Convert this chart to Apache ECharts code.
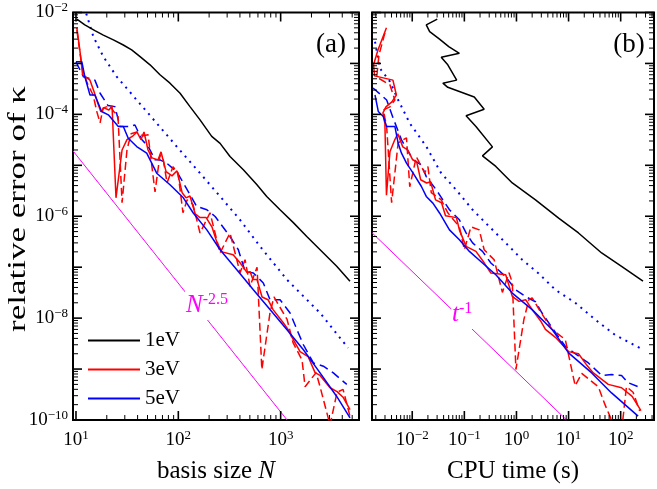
<!DOCTYPE html>
<html><head><meta charset="utf-8">
<script src="https://cdn.jsdelivr.net/npm/echarts@6/dist/echarts.min.js"></script>
<style>html,body{margin:0;padding:0;background:#fff}#c{width:657px;height:489px}</style>
</head><body><div id="c"></div>
<script>
// ---------- data ----------
const legendNames = ['1eV', '3eV', '5eV'];
const xDecadesLeft = [1, 2, 3];          // exponents of labelled x ticks, panel (a)
const xDecadesRight = [-2, -1, 0, 1, 2]; // exponents of labelled x ticks, panel (b)
const yDecades = [-10, -8, -6, -4, -2];  // exponents of labelled y ticks
const panelLabels = ['(a)', '(b)'];

// panel (a): error vs basis size N
const black1eV_N = [[10.2,7.4e-3],[12.2,5.7e-3],[15.3,4.4e-3],[18.5,3.6e-3],[23.2,2.9e-3],[29.0,2.3e-3],[35.0,1.84e-3],[42.3,1.36e-3],[52.9,9.4e-4],[66.2,6.0e-4],[82.9,4.1e-4],[104,2.6e-4],[130,1.42e-4],[163,7.8e-5],[212,3.7e-5],[256,2.7e-5],[320,1.49e-5],[432,8.2e-6],[584,4.2e-6],[731,2.45e-6],[986,1.34e-6],[1330,7.5e-7],[1800,4.0e-7],[2430,2.2e-7],[3530,1.04e-7],[4760,5.3e-8]];
const red3eV_N = [[10.2,5.0e-3],[10.9,1.84e-3],[11.6,6.0e-4],[12.5,5.4e-4],[13.7,4.7e-4],[15.0,2.8e-4],[16.4,1.61e-4],[17.5,1.12e-4],[18.8,1.34e-4],[21.0,1.22e-4],[22.5,1.47e-4],[24.6,2.3e-6],[28.2,2.0e-5],[31.5,3.2e-5],[36.1,3.8e-5],[39.5,4.5e-5],[43.2,3.2e-5],[46.2,4.5e-5],[50.6,2.0e-5],[55.3,1.4e-5],[63.4,1.28e-5],[67.8,1.84e-5],[75.9,7.5e-6],[86.8,6.2e-6],[97.1,7.8e-6],[109,2.9e-6],[119,2.3e-6],[130,2.5e-6],[146,1.12e-6],[163,9.4e-7],[187,9.4e-7],[213,6.2e-7],[239,3.0e-7],[267,2.0e-7],[343,1.76e-7],[401,1.22e-7],[470,7.8e-8],[502,8.2e-8],[537,5.7e-8],[588,5.7e-8],[658,2.6e-8],[753,2.3e-8],[843,1.47e-8],[1056,8.2e-9],[1181,6.0e-9],[1292,4.2e-9],[1548,2.2e-9],[1854,1.76e-9],[2169,8.5e-10],[2427,7.5e-10],[3040,4.3e-10],[3558,3.6e-10],[4073,2.8e-10],[4764,1.6e-10]];
const red3eVdash_N = [[10.2,4.5e-3],[10.9,1.7e-3],[11.7,6.8e-4],[13.1,3.8e-4],[14.7,2.4e-4],[16.0,1.12e-4],[17.2,6.8e-5],[18.4,1.34e-4],[21.5,1.47e-4],[23.5,1.12e-4],[25.7,9.8e-5],[28.2,1.84e-6],[31.5,2.0e-5],[34.5,4.15e-5],[39.5,4.5e-5],[45.2,3.8e-5],[50.6,4.0e-5],[59.2,3.0e-6],[66.2,1.6e-5],[70.8,1.4e-5],[77.6,4.5e-6],[88.7,9.4e-6],[99.3,7.1e-6],[111,1.17e-6],[122,2.1e-6],[139,1.7e-6],[163,4.7e-7],[204,1.17e-6],[256,1.9e-7],[320,4.7e-7],[401,7.8e-8],[449,1.4e-7],[502,4.2e-8],[588,1.0e-7],[655,9.8e-10],[787,1.28e-8],[861,2.6e-8],[1156,9.4e-9],[1322,3.3e-9],[1619,1.5e-9],[1733,4.5e-10],[2219,8.5e-10],[2427,4.5e-10],[3040,8e-11],[3558,3.5e-10],[4073,4.0e-10],[4764,1.17e-10]];
const blue5eV_N = [[10,1.08e-3],[11.4,1.08e-3],[12.2,5.5e-4],[13.7,2.4e-4],[15.3,2.4e-4],[17.8,1.14e-4],[20.7,9.8e-5],[25.9,5.8e-5],[29.0,5.8e-5],[32.4,3.4e-5],[39.2,2.34e-5],[49.1,1.73e-5],[61.5,7.0e-6],[82.9,4.15e-6],[112,2.3e-6],[140,1.16e-6],[190,5.4e-7],[256,2.2e-7],[373,8.9e-8],[541,3.6e-8],[787,1.47e-8],[1148,6.0e-9],[1668,2.4e-9],[2427,8.4e-10],[3532,2.9e-10],[4764,1.1e-10]];
const blue5eVdash_N = [[10,1.08e-3],[11.8,5.5e-4],[15.3,4.7e-4],[17.2,2.6e-4],[20.5,1.5e-4],[24.0,1.42e-4],[26.9,5.8e-5],[33.7,5.8e-5],[37.7,6.2e-5],[43.9,3.2e-5],[50.9,2.34e-5],[59.2,1.28e-5],[66.2,1.28e-5],[77.1,1.1e-5],[96.4,7.5e-6],[112,4.5e-6],[151,1.56e-6],[190,1.34e-6],[229,9.9e-7],[320,4.0e-7],[386,2.2e-7],[449,8.3e-8],[541,7.7e-8],[677,4.9e-8],[787,2.3e-8],[986,2.3e-8],[1236,1.26e-8],[1490,5.1e-9],[1668,3.0e-9],[2089,1.32e-9],[2614,1.14e-9],[3272,8.4e-10],[4426,5.0e-10]];
const blue5eVdot_N = [[12.6,9.5e-3],[14.8,3.35e-3],[18.5,1.36e-3],[25.0,5.5e-4],[39.2,1.92e-4],[61.5,6.7e-5],[96.4,2.34e-5],[163,7.0e-6],[256,2.45e-6],[401,8.5e-7],[629,2.56e-7],[1150,5.7e-8],[2430,1.26e-8],[4560,2.6e-9]];
const guideN = [[9.35,1.92e-5],[1156,1e-10]];

// panel (b): error vs CPU time t
const black1eV_t = [[0.0302,7.4e-3],[0.0186,5.7e-3],[0.0216,4.2e-3],[0.0334,3.0e-3],[0.0502,2.14e-3],[0.0803,1.58e-3],[0.036,1.32e-3],[0.0481,9.4e-4],[0.0713,4.7e-4],[0.0387,4.1e-4],[0.0481,3.4e-4],[0.155,2.2e-4],[0.24,1.26e-4],[0.108,9.4e-5],[0.167,5.8e-5],[0.346,2.3e-5],[0.223,1.53e-5],[0.402,9.5e-6],[0.832,4.5e-6],[2.32,2.1e-6],[6.45,9.2e-7],[15.5,4.7e-7],[43.1,1.9e-7],[104,1.04e-7],[268,5.3e-8]];
const red3eV_t = [[3.2e-3,5.0e-3],[2.2e-3,1.84e-3],[1.81e-3,9.4e-4],[1.89e-3,5.7e-4],[4.26e-3,4.7e-4],[4.96e-3,2.4e-4],[4.07e-3,1.76e-4],[3.13e-3,1.4e-4],[2.74e-3,1.07e-4],[2.99e-3,6.5e-5],[3.2e-3,2.6e-6],[3.73e-3,1.84e-5],[4.64e-3,3.2e-5],[5.29e-3,4.15e-5],[6.59e-3,2.3e-5],[8.21e-3,2.0e-5],[0.0102,1.28e-5],[0.0122,1.17e-5],[0.0145,5.2e-6],[0.0189,4.5e-6],[0.0225,4.75e-6],[0.028,2.1e-6],[0.0365,1.84e-6],[0.0435,1.02e-6],[0.0705,9.4e-7],[0.0803,5.4e-7],[0.108,2.56e-7],[0.167,2.04e-7],[0.24,1.22e-7],[0.323,7.7e-8],[0.622,7.1e-8],[0.832,2.67e-8],[1.12,2.13e-8],[1.5,2.3e-8],[2.0,1.47e-8],[2.89,8.9e-9],[3.6,6.0e-9],[5.9,4.0e-9],[10,2.2e-9],[15.5,2.0e-9],[22,1.22e-9],[29.9,8.4e-10],[57.8,5.0e-10],[104,4.3e-10],[166,2.9e-10],[245,1.53e-10]];
const red3eVdash_t = [[2.99e-3,4.0e-3],[2.3e-3,1.47e-3],[2.08e-3,5.4e-4],[3.73e-3,3.8e-4],[4.64e-3,1.92e-4],[3.73e-3,1.4e-4],[2.78e-3,1.22e-4],[3.23e-3,5.7e-5],[4.02e-3,1.84e-6],[5.37e-3,2.76e-5],[7.76e-3,3.46e-5],[8.96e-3,3.8e-6],[0.012,1.47e-5],[0.0173,7.1e-6],[0.02,9.4e-6],[0.0232,2.9e-6],[0.036,2.1e-6],[0.0481,1.17e-6],[0.0803,6.2e-7],[0.1,2.2e-7],[0.134,6.2e-7],[0.193,5.4e-7],[0.24,2.2e-7],[0.373,1.4e-7],[0.537,3.2e-8],[0.719,7.8e-8],[0.832,5.0e-8],[0.977,9.8e-10],[1.39,9.4e-9],[1.73,2.3e-8],[2.0,2.5e-8],[2.89,1.34e-8],[4.81,6.0e-9],[8.65,3.8e-9],[10,1.9e-9],[13.4,4.7e-10],[17.9,8.2e-10],[37.3,4.5e-10],[50,2.0e-10],[66.8,1.0e-10],[104,6e-11],[129,4.5e-10],[173,3.5e-10],[232,1.5e-10]];
const blue5eV_t = [[1.93e-3,2.4e-4],[2.23e-3,1.14e-4],[2.78e-3,9.1e-5],[3.23e-3,5.8e-5],[4.64e-3,5.8e-5],[5.37e-3,2.72e-5],[6.22e-3,1.73e-5],[7.76e-3,1.1e-5],[0.0104,7.0e-6],[0.015,3.84e-6],[0.0186,2.45e-6],[0.0249,1.81e-6],[0.0334,1.16e-6],[0.0518,5.4e-7],[0.0803,3.46e-7],[0.125,2.04e-7],[0.223,1.21e-7],[0.402,7.1e-8],[0.832,3.1e-8],[2.0,1.47e-8],[4.81,6.0e-9],[10,2.08e-9],[27.8,8.4e-10],[66.8,3.4e-10],[216,1.19e-10]];
const blue5eVdash_t = [[1.77e-3,3.3e-4],[3.23e-3,1.92e-4],[4.31e-3,8.4e-5],[6.22e-3,3.16e-5],[0.0104,1.28e-5],[0.015,1.02e-5],[0.0186,6.0e-6],[0.0289,3.3e-6],[0.0387,2.1e-6],[0.0518,1.34e-6],[0.0803,8.5e-7],[0.108,4.7e-7],[0.144,3.0e-7],[0.223,2.04e-7],[0.323,1.21e-7],[0.622,6.5e-8],[0.966,3.6e-8],[1.5,2.64e-8],[2.32,2.1e-8],[3.1,1.26e-8],[4.81,6.5e-9],[8.65,2.8e-9],[13.4,2.0e-9],[24.0,1.32e-9],[43.1,7.5e-10],[66.8,7.8e-10],[104,7.5e-10],[139,5.4e-10],[216,4.5e-10]];
const blue5eVdot_t = [[1.93e-3,2.67e-3],[2.4e-3,8.0e-4],[3.73e-3,4.4e-4],[5.37e-3,1.92e-4],[8.96e-3,6.7e-5],[0.0186,2.34e-5],[0.036,7.0e-6],[0.0695,3.3e-6],[0.144,1.34e-6],[0.299,6.3e-7],[0.622,3.0e-7],[1.29,1.4e-7],[2.68,7.5e-8],[5.58,3.6e-8],[13.4,2.0e-8],[32.3,9.4e-9],[77.6,4.7e-9],[232,2.6e-9]];
const guideT = [[1.69e-3,4.74e-7],[9.16,1e-10]];

// axis ranges
const xRangeLeft = [9.35, 5830];
const xRangeRight = [1.69e-3, 436];
const yRange = [1e-10, 1e-2];

// ---------- rendering ----------
const FONT = 'Liberation Serif';
const BLACK = '#000000', RED = '#ff0000', BLUE = '#0000ff', MAG = '#ff00ff';

function logTicks(lo, hi) {
  const out = [];
  const e0 = Math.floor(Math.log10(lo)), e1 = Math.ceil(Math.log10(hi));
  for (let e = e0; e <= e1; e++) {
    for (let m = 1; m <= 9; m++) {
      const v = m * Math.pow(10, e);
      if (v >= lo * 0.9999 && v <= hi * 1.0001) out.push([v, m === 1 ? 1 : 0]);
    }
  }
  return out;
}

function powLabel(allowed) {
  return function (v) {
    const l = Math.log10(v), e = Math.round(l);
    if (Math.abs(l - e) > 1e-6 || allowed.indexOf(e) < 0) return '';
    return '{b|10}{s|' + String(e).replace('-', '\u2212') + '}';
  };
}
const labelRich = {
  b: { fontFamily: FONT, fontSize: 19, lineHeight: 22, color: '#000' },
  s: { fontFamily: FONT, fontSize: 13, lineHeight: 10, verticalAlign: 'top', color: '#000' }
};

function tickSeries(gi, dim, ticks) {
  const data = ticks.map(t => dim === 'x' ? [t[0], 1e-6, t[1]] : [1, t[0], t[1]]);
  return {
    type: 'custom', xAxisIndex: gi, yAxisIndex: gi, silent: true, z: 5,
    encode: { x: 0, y: 1 }, data: data,
    renderItem: function (params, api) {
      const cs = params.coordSys;
      const major = api.value(2) === 1;
      const len = major ? 9 : 5;
      const p = api.coord([api.value(0), api.value(1)]);
      const st = { stroke: '#000', lineWidth: major ? 1.6 : 1 };
      if (dim === 'x') {
        const x = p[0], yb = cs.y + cs.height, yt = cs.y;
        return { type: 'group', children: [
          { type: 'line', shape: { x1: x, y1: yb, x2: x, y2: yb - len }, style: st },
          { type: 'line', shape: { x1: x, y1: yt, x2: x, y2: yt + len }, style: st } ] };
      } else {
        const y = p[1], xl = cs.x, xr = cs.x + cs.width;
        return { type: 'group', children: [
          { type: 'line', shape: { x1: xl, y1: y, x2: xl + len, y2: y }, style: st },
          { type: 'line', shape: { x1: xr, y1: y, x2: xr - len, y2: y }, style: st } ] };
      }
    }
  };
}

function lineSeries(name, gi, data, color, type, width) {
  return {
    name: name, type: 'line', xAxisIndex: gi, yAxisIndex: gi, data: data,
    symbol: 'none', smooth: false, clip: true, animation: false, z: 3,
    lineStyle: { color: color, width: width || 1.5, type: type || 'solid' },
    itemStyle: { color: color }
  };
}

const chart = echarts.init(document.getElementById('c'), null, { renderer: 'canvas' });

const grids = [
  { left: 73, top: 12.5, width: 286, height: 408 },
  { left: 372, top: 12.5, width: 283, height: 408 }
];

const option = {
  animation: false,
  backgroundColor: '#fff',
  grid: grids.map(g => Object.assign({ show: true, borderColor: '#000', borderWidth: 2, backgroundColor: 'transparent' }, g)),
  legend: {
    data: legendNames, orient: 'vertical', left: 88, top: 330, padding: 0,
    icon: 'rect', itemWidth: 52, itemHeight: 2, itemGap: 8,
    textStyle: { fontFamily: FONT, fontSize: 21, lineHeight: 20, color: '#000' },
    selectedMode: false
  },
  xAxis: [
    { type: 'log', gridIndex: 0, min: xRangeLeft[0], max: xRangeLeft[1],
      axisLine: { show: false }, axisTick: { show: false }, splitLine: { show: false },
      axisLabel: { formatter: powLabel(xDecadesLeft), margin: 9, rich: labelRich, showMinLabel: true, showMaxLabel: true, hideOverlap: false },
      name: '{a|basis size }{i|N}', nameLocation: 'middle', nameGap: 39,
      nameTextStyle: { rich: { a: { fontFamily: FONT, fontSize: 25, color: '#000' }, i: { fontFamily: FONT, fontSize: 25, fontStyle: 'italic', color: '#000' } } } },
    { type: 'log', gridIndex: 1, min: xRangeRight[0], max: xRangeRight[1],
      axisLine: { show: false }, axisTick: { show: false }, splitLine: { show: false },
      axisLabel: { formatter: powLabel(xDecadesRight), margin: 9, rich: labelRich, hideOverlap: false },
      name: 'CPU time (s)', nameLocation: 'middle', nameGap: 39,
      nameTextStyle: { fontFamily: FONT, fontSize: 25, color: '#000' } }
  ],
  yAxis: [
    { type: 'log', gridIndex: 0, min: yRange[0], max: yRange[1],
      axisLine: { show: false }, axisTick: { show: false }, splitLine: { show: false },
      axisLabel: { formatter: powLabel(yDecades), margin: 5, rich: labelRich, hideOverlap: false } },
    { type: 'log', gridIndex: 1, min: yRange[0], max: yRange[1],
      axisLine: { show: false }, axisTick: { show: false }, splitLine: { show: false },
      axisLabel: { show: false } }
  ],
  graphic: [
    { type: 'text', x: 18, y: 209, rotation: Math.PI / 2, scaleX: 1.4, z: 10,
      style: { text: 'relative error of κ', font: '25px "' + FONT + '"', fill: '#000', align: 'center', verticalAlign: 'middle' } },
    { type: 'text', x: 331, y: 45, z: 10,
      style: { text: panelLabels[0], font: '27px "' + FONT + '"', fill: '#000', align: 'center', verticalAlign: 'middle' } },
    { type: 'text', x: 629, y: 45, z: 10,
      style: { text: panelLabels[1], font: '27px "' + FONT + '"', fill: '#000', align: 'center', verticalAlign: 'middle' } },
    { type: 'text', x: 185, y: 305, z: 10,
      style: { text: '{n|N}{s|-2.5}', fill: MAG, align: 'left', verticalAlign: 'middle', backgroundColor: '#fff', padding: [2, 1, 2, 1],
        rich: { n: { fontFamily: FONT, fontSize: 25, fontStyle: 'italic', lineHeight: 26, fill: MAG, color: MAG },
                s: { fontFamily: FONT, fontSize: 16, lineHeight: 12, verticalAlign: 'top', fill: MAG, color: MAG } } } },
    { type: 'text', x: 451, y: 314, z: 10,
      style: { text: '{n|t}{s|-1}', fill: MAG, align: 'left', verticalAlign: 'middle', backgroundColor: '#fff', padding: [2, 1, 2, 1],
        rich: { n: { fontFamily: FONT, fontSize: 25, fontStyle: 'italic', lineHeight: 26, fill: MAG, color: MAG },
                s: { fontFamily: FONT, fontSize: 16, lineHeight: 12, verticalAlign: 'top', fill: MAG, color: MAG } } } }
  ],
  series: [
    lineSeries('guideN', 0, guideN, MAG, 'solid', 1),
    lineSeries('dot5N', 0, blue5eVdot_N, BLUE, [2, 5], 2),
    lineSeries('dash5N', 0, blue5eVdash_N, BLUE, [9, 5], 1.5),
    lineSeries('dash3N', 0, red3eVdash_N, RED, [8, 4], 1.5),
    lineSeries('1eV', 0, black1eV_N, BLACK, 'solid', 1.5),
    lineSeries('3eV', 0, red3eV_N, RED, 'solid', 1.5),
    lineSeries('5eV', 0, blue5eV_N, BLUE, 'solid', 1.5),
    lineSeries('guideT', 1, guideT, MAG, 'solid', 1),
    lineSeries('dot5T', 1, blue5eVdot_t, BLUE, [2, 5], 2),
    lineSeries('dash5T', 1, blue5eVdash_t, BLUE, [9, 5], 1.5),
    lineSeries('dash3T', 1, red3eVdash_t, RED, [8, 4], 1.5),
    lineSeries('1eV', 1, black1eV_t, BLACK, 'solid', 1.5),
    lineSeries('3eV', 1, red3eV_t, RED, 'solid', 1.5),
    lineSeries('5eV', 1, blue5eV_t, BLUE, 'solid', 1.5),
    tickSeries(0, 'x', logTicks(xRangeLeft[0], xRangeLeft[1])),
    tickSeries(0, 'y', logTicks(yRange[0], yRange[1])),
    tickSeries(1, 'x', logTicks(xRangeRight[0], xRangeRight[1])),
    tickSeries(1, 'y', logTicks(yRange[0], yRange[1]))
  ]
};
chart.setOption(option);
</script>
</body></html>
